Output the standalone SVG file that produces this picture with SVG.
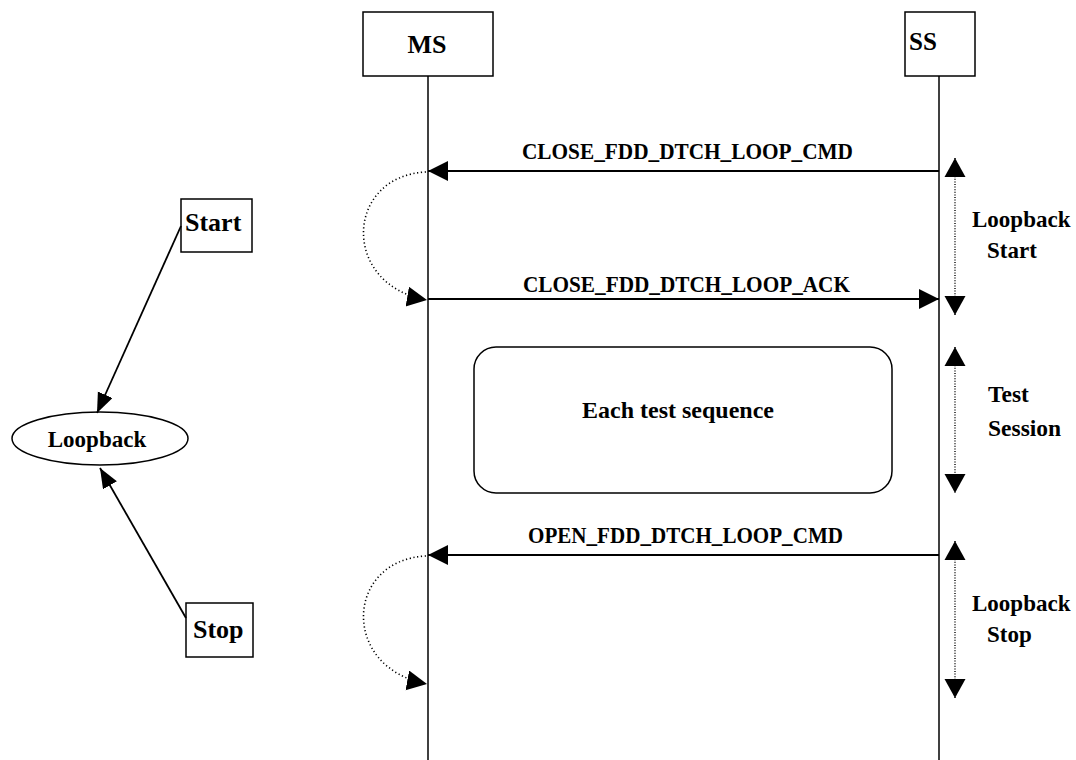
<svg xmlns="http://www.w3.org/2000/svg" width="1076" height="760" viewBox="0 0 1076 760">
  <style>
    .txt { font-family: "Liberation Serif", "Times New Roman", serif; font-weight: bold; fill: #000; }
    .box { fill: #fff; stroke: #000; stroke-width: 1.5; }
    .life { stroke: #000; stroke-width: 1.5; fill: none; }
    .msg { stroke: #000; stroke-width: 1.8; fill: none; }
    .dot { stroke: #000; stroke-width: 1.6; fill: none; stroke-dasharray: 1.2 2.6; }
    .vdot { stroke: #000; stroke-width: 1.4; fill: none; stroke-dasharray: 1 1.6; }
  </style>
  <defs>
    <marker id="arr" markerUnits="userSpaceOnUse" markerWidth="22" markerHeight="22" refX="20" refY="10" orient="auto">
      <path d="M0,0 L20,10 L0,20 Z" fill="#000"/>
    </marker>
    <marker id="arrS" markerUnits="userSpaceOnUse" markerWidth="22" markerHeight="20" refX="20" refY="8" orient="auto">
      <path d="M0,0 L20,8 L0,16 Z" fill="#000"/>
    </marker>
    <marker id="arrStart" markerUnits="userSpaceOnUse" markerWidth="22" markerHeight="22" refX="0" refY="10.5" orient="auto">
      <path d="M0,10.5 L19,0 L19,21 Z" fill="#000"/>
    </marker>
    <marker id="arrEnd" markerUnits="userSpaceOnUse" markerWidth="22" markerHeight="22" refX="19" refY="10.5" orient="auto">
      <path d="M0,0 L19,10.5 L0,21 Z" fill="#000"/>
    </marker>
  </defs>

  <!-- Left: state overview -->
  <g id="node-start">
    <rect class="box" x="181" y="199" width="71" height="53"/>
    <text class="txt" x="185" y="231" font-size="26">Start</text>
  </g>
  <g id="node-loopback">
    <ellipse class="box" cx="100" cy="438.5" rx="88" ry="26.5"/>
    <text class="txt" x="97" y="447" font-size="23" text-anchor="middle">Loopback</text>
  </g>
  <g id="node-stop">
    <rect class="box" x="186" y="603" width="67" height="54"/>
    <text class="txt" x="193" y="638" font-size="26">Stop</text>
  </g>

  <!-- Right: message sequence -->
  <g id="node-ms">
    <rect class="box" x="363" y="12" width="130" height="64"/>
    <text class="txt" x="427" y="53" font-size="26" text-anchor="middle">MS</text>
  </g>
  <g id="node-ss">
    <rect class="box" x="905" y="12" width="70" height="64"/>
    <text class="txt" x="923" y="50" font-size="25" text-anchor="middle">SS</text>
  </g>
  <g id="node-test-sequence">
    <rect class="box" x="474" y="347" width="418" height="146" rx="22" ry="22"/>
    <text class="txt" x="678" y="418" font-size="24" text-anchor="middle">Each test sequence</text>
  </g>
  <g id="node-phase-labels">
    <text class="txt" x="972" y="227" font-size="23">Loopback</text>
    <text class="txt" x="987" y="258" font-size="23">Start</text>
    <text class="txt" x="988" y="402" font-size="23.5">Test</text>
    <text class="txt" x="988" y="436" font-size="23.5">Session</text>
    <text class="txt" x="972" y="611" font-size="23">Loopback</text>
    <text class="txt" x="987" y="642" font-size="23">Stop</text>
  </g>
  <g id="node-message-labels">
    <text class="txt" x="522" y="159" font-size="24" textLength="331" lengthAdjust="spacingAndGlyphs">CLOSE_FDD_DTCH_LOOP_CMD</text>
    <text class="txt" x="523" y="292" font-size="24" textLength="327" lengthAdjust="spacingAndGlyphs">CLOSE_FDD_DTCH_LOOP_ACK</text>
    <text class="txt" x="528" y="543" font-size="24" textLength="315" lengthAdjust="spacingAndGlyphs">OPEN_FDD_DTCH_LOOP_CMD</text>
  </g>

  <g id="connectors">
    <!-- lifelines -->
    <line class="life" x1="428" y1="76" x2="428" y2="760"/>
    <line class="life" x1="939" y1="76" x2="939" y2="760"/>

    <!-- state transitions -->
    <line class="msg" x1="181" y1="226" x2="97" y2="413" marker-end="url(#arrS)"/>
    <line class="msg" x1="186" y1="618" x2="100" y2="468" marker-end="url(#arrS)"/>

    <!-- messages -->
    <line class="msg" x1="939" y1="171" x2="428" y2="171" marker-end="url(#arr)"/>
    <line class="msg" x1="428" y1="299" x2="939" y2="299" marker-end="url(#arr)"/>
    <line class="msg" x1="939" y1="555" x2="428" y2="555" marker-end="url(#arr)"/>

    <!-- local processing loops at MS -->
    <path class="dot" d="M426,172 C345,176 340,285 427,300" marker-end="url(#arr)"/>
    <path class="dot" d="M426,556 C345,560 340,668 427,684" marker-end="url(#arr)"/>

    <!-- phase spans -->
    <line class="vdot" x1="955" y1="158" x2="955" y2="315" marker-start="url(#arrStart)" marker-end="url(#arrEnd)"/>
    <line class="vdot" x1="955" y1="347" x2="955" y2="493" marker-start="url(#arrStart)" marker-end="url(#arrEnd)"/>
    <line class="vdot" x1="955" y1="541" x2="955" y2="698" marker-start="url(#arrStart)" marker-end="url(#arrEnd)"/>
  </g>
</svg>
